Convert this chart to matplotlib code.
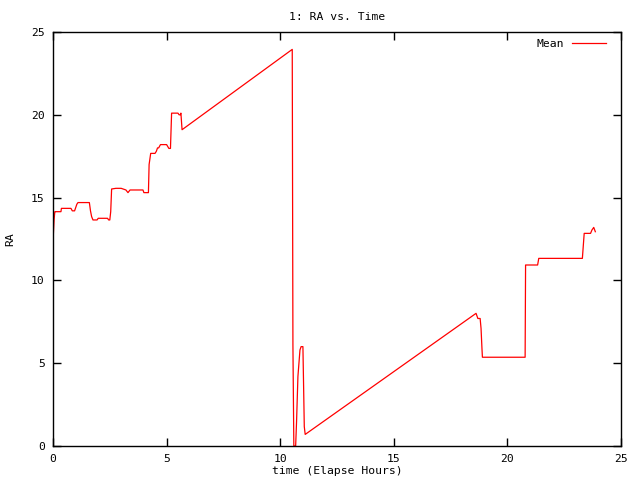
import matplotlib
matplotlib.use("Agg")
import matplotlib.pyplot as plt

# elapsed hours and mean RA
hours = [0.0, 0.02, 0.05, 0.08, 0.1, 0.35, 0.37, 0.79, 0.85, 0.95, 1.05, 1.1,
         1.6, 1.65, 1.7, 1.76, 1.94, 1.99, 2.4, 2.45, 2.5, 2.54, 2.58, 2.77,
         3.0, 3.21, 3.3, 3.39, 3.96, 4.0, 4.2, 4.23, 4.3, 4.49, 4.55, 4.6,
         4.65, 4.73, 5.0, 5.1, 5.17, 5.22, 5.27, 5.5, 5.55, 5.6, 5.63, 5.68,
         10.53, 10.54, 10.56, 10.6, 10.68, 10.72, 10.78, 10.87, 10.92, 11.0,
         11.03, 11.06, 11.1, 18.62, 18.7, 18.8, 18.84, 18.88, 18.9, 20.78,
         20.8, 21.33, 21.38, 23.3, 23.38, 23.66, 23.72, 23.8, 23.87]
ra = [12.3, 12.9, 13.7, 14.15, 14.15, 14.15, 14.35, 14.35, 14.2, 14.2, 14.6, 14.7,
      14.7, 14.2, 13.85, 13.65, 13.65, 13.75, 13.75, 13.65, 13.65, 14.15, 15.52, 15.56,
      15.56, 15.46, 15.3, 15.46, 15.46, 15.3, 15.3, 17.0, 17.67, 17.67, 17.8, 18.0,
      18.0, 18.2, 18.2, 17.97, 17.97, 20.1, 20.1, 20.1, 20.0, 20.0, 20.1, 19.1,
      23.95, 18.1, 6.1, 0.0, 0.0, 1.47, 4.2, 5.8, 6.0, 6.0,
      3.6, 1.17, 0.7, 8.01, 7.7, 7.7, 7.1, 5.9, 5.36, 5.36,
      10.93, 10.93, 11.33, 11.33, 12.84, 12.84, 13.04, 13.2, 12.94]

x_ticks = [0, 5, 10, 15, 20, 25]
y_ticks = [0, 5, 10, 15, 20, 25]

plt.rcParams['font.family'] = ['DejaVu Sans Mono']
plt.rcParams['font.size'] = 8.2

fig = plt.figure(figsize=(6.4, 4.8), dpi=100)
ax = fig.add_axes([53 / 640, 34 / 480, 568 / 640, 414 / 480])

ax.plot(hours, ra, color='red', linewidth=0.9, label='Mean')

ax.set_xlim(0, 25)
ax.set_ylim(0, 25)
ax.set_xticks(x_ticks)
ax.set_yticks(y_ticks)
ax.tick_params(direction='in', length=6, width=1, top=True, right=True, pad=6)
for s in ax.spines.values():
    s.set_linewidth(1)

ax.set_title("1: RA vs. Time", fontsize=8.2, pad=9)
ax.set_xlabel("time (Elapse Hours)", labelpad=1)
ax.set_ylabel("RA", labelpad=11)

leg = ax.legend(loc='upper right', frameon=False, markerfirst=False,
                handlelength=3.0, borderaxespad=0.0, handletextpad=0.7,
                bbox_to_anchor=(1 - 10 / 568, 1 - 2 / 414))

fig.savefig("out.png", dpi=100)
